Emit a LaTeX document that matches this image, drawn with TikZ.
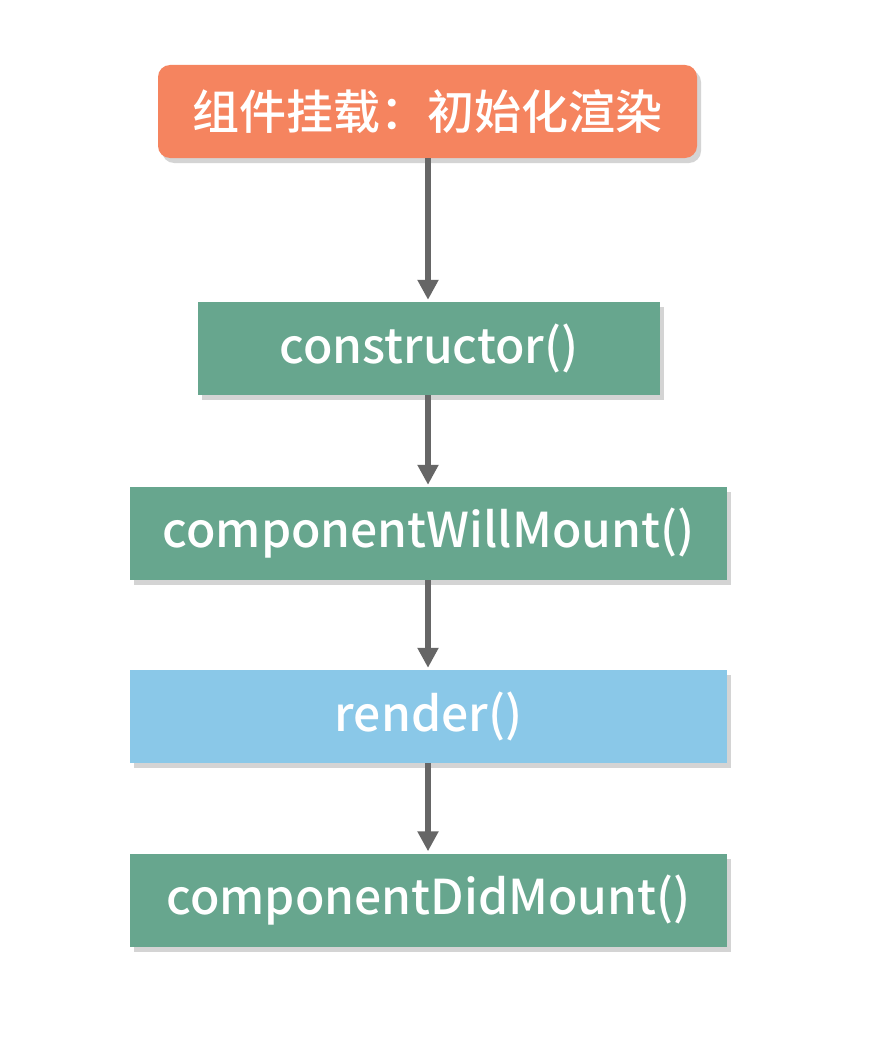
\documentclass[tikz,border=0pt]{standalone}
\usepackage{fontspec}
\setmainfont{Noto Sans CJK SC}[UprightFont=* Medium]
\usetikzlibrary{shadows,arrows.meta}
\definecolor{orangebox}{HTML}{F5845F}
\definecolor{greenbox}{HTML}{67A68E}
\definecolor{bluebox}{HTML}{8AC8E8}
\definecolor{arrowgray}{HTML}{666666}
\tikzset{
  box/.style={minimum height=93pt, inner sep=0pt, text=white, font=\fontsize{48}{56}\selectfont,
    drop shadow={shadow xshift=4pt, shadow yshift=-5pt, opacity=0.3, fill=black!55}},
  flow/.style={draw=arrowgray, line width=5.5pt, -{Triangle[length=20pt,width=20pt]}, shorten >=2pt}
}
\begin{document}
\begin{tikzpicture}[x=1pt,y=-1pt]
\useasboundingbox[fill=white] (0,0) rectangle (868,1046);
\node[box, fill=orangebox, rounded corners=12pt, minimum width=539pt, font=\fontsize{47}{54}\selectfont] (mount) at (427.5,111.5) {\raisebox{-2pt}{组件挂载：初始化渲染}};
\node[box, fill=greenbox, minimum width=462pt] (ctor) at (429,348.5) {\raisebox{-2pt}{constructor()}};
\node[box, fill=greenbox, minimum width=597pt] (will) at (428.5,533.5) {\raisebox{-2pt}{componentWillMount()}};
\node[box, fill=bluebox, minimum width=597pt] (render) at (428.5,716.5) {\raisebox{-2pt}{render()}};
\node[box, fill=greenbox, minimum width=597pt] (did) at (428.5,900) {\raisebox{-2pt}{componentDidMount()}};
\draw[flow] (mount.south -| 428,0) -- (ctor.north -| 428,0);
\draw[flow] (ctor.south -| 428,0) -- (will.north -| 428,0);
\draw[flow] (will.south -| 428,0) -- (render.north -| 428,0);
\draw[flow] (render.south -| 428,0) -- (did.north -| 428,0);
\end{tikzpicture}
\end{document}
